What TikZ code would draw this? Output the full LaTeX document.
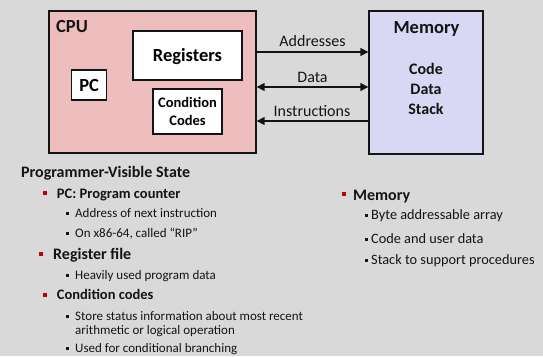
\documentclass[tikz,border=0pt]{standalone}
\usepackage{fontspec}
\setmainfont{Carlito}
\usetikzlibrary{arrows.meta}
\definecolor{bg}{RGB}{217,217,217}
\definecolor{cpufill}{RGB}{238,190,190}
\definecolor{memfill}{RGB}{216,216,245}
\definecolor{ink}{RGB}{20,20,20}
\definecolor{bulletred}{RGB}{192,0,0}
\newcommand{\fs}[2]{\fontsize{#1}{#2}\selectfont}
\tikzset{
  box/.style={draw=ink, line width=1.4pt, inner sep=0pt},
  whitebox/.style={box, fill=white},
  capbox/.style={whitebox, text height=12pt, text depth=0pt, font=\bfseries\fs{18.5}{20}},
  txt/.style={inner sep=0pt, text=ink, yshift=-2pt},
  link/.style={draw=ink, line width=1.5pt},
  tip/.style={-{Triangle[length=8pt,width=8pt]}},
  lvlone/.style={txt, anchor=mid west, font=\bfseries\fs{14.5}{17}},
  lvltwo/.style={txt, anchor=mid west, font=\fs{13}{15}},
  redsq/.style={fill=bulletred, inner sep=0pt, minimum size=4pt},
  blksq/.style={fill=ink, inner sep=0pt, minimum size=3pt},
}
\begin{document}
\begin{tikzpicture}[x=1pt, y=-1pt]
\fill[bg] (0,0) rectangle (543,356);
\useasboundingbox (0,0) rectangle (543,356);

% processor block
\node[box, fill=cpufill, minimum width=207pt, minimum height=142pt] (cpu) at (152.5,82) {};
\node[txt, anchor=mid west, font=\bfseries\fs{18.5}{20}] (cpulbl) at (56,28) {CPU};
\node[capbox, minimum width=109pt, minimum height=49pt] (regs) at (187.5,55.5) {Registers};
\node[capbox, minimum width=35pt, minimum height=30pt] (pc) at (89.2,85) {PC};
\node[whitebox, minimum width=69pt, minimum height=45pt, align=center, font=\bfseries\fs{14.5}{18}] (cc) at (187.5,111.5) {Condition\\Codes};

% memory block
\node[box, fill=memfill, minimum width=114pt, minimum height=143pt] (mem) at (426,82.5) {};
\node[txt, font=\bfseries\fs{18.5}{20}] (memlbl) at (426.5,27) {Memory};
\node[txt, align=center, font=\bfseries\fs{16}{20}] (memparts) at (426,87) {Code\\Data\\Stack};

% buses between processor and memory
\draw[link, tip] ([yshift=30pt]cpu.east) -- ([yshift=30pt]cpu.east -| mem.west);
\draw[link, {Triangle[length=8pt,width=8pt]}-{Triangle[length=8pt,width=8pt]}] ([yshift=-5pt]cpu.east) -- ([yshift=-5pt]cpu.east -| mem.west);
\draw[link, tip] ([yshift=-39pt]cpu.east -| mem.west) -- ([yshift=-39pt]cpu.east);
\node[txt, font=\fs{16}{18}] (addr) at (312.5,39) {Addresses};
\node[txt, font=\fs{16}{18}] (data) at (312.5,75) {Data};
\node[txt, font=\fs{16}{18}] (instr) at (312,109) {Instructions};

% programmer-visible state
\node[txt, anchor=mid west, font=\bfseries\fs{16}{18}] (pvs) at (21,173) {Programmer-Visible State};

\node[redsq] (b1) at (45,193) {};
\node[lvlone] (t1) at (56.7,194) {PC: Program counter};
\node[blksq] (b11) at (67.5,213.5) {};
\node[lvltwo] (t11) at (75,213.5) {Address of next instruction};
\node[blksq] (b12) at (67.5,233) {};
\node[lvltwo] (t12) at (75,233) {On x86-64, called “RIP”};

\node[redsq] (b2) at (41,253.5) {};
\node[lvlone, font=\bfseries\fs{16}{18}] (t2) at (53,255) {Register file};
\node[blksq] (b21) at (67.5,275.5) {};
\node[lvltwo] (t21) at (75,275.5) {Heavily used program data};

\node[redsq] (b3) at (45,294.5) {};
\node[lvlone] (t3) at (56.7,295.5) {Condition codes};
\node[blksq] (b31) at (67.5,316.5) {};
\node[lvltwo] (t31) at (75,316.5) {Store status information about most recent};
\node[lvltwo] (t31b) at (75,330.5) {arithmetic or logical operation};
\node[blksq] (b32) at (67.5,348) {};
\node[lvltwo] (t32) at (75,348) {Used for conditional branching};

% memory notes
\node[redsq, minimum size=3.5pt] (b4) at (344,194) {};
\node[txt, anchor=mid west, font=\bfseries\fs{16}{18}] (t4) at (353,196) {Memory};
\node[blksq] (b41) at (366,215) {};
\node[txt, anchor=mid west, font=\fs{14.3}{16}] (t41) at (371,215) {Byte addressable array};
\node[blksq] (b42) at (366,239.5) {};
\node[txt, anchor=mid west, font=\fs{14.3}{16}] (t42) at (371,239.5) {Code and user data};
\node[blksq] (b43) at (366,260) {};
\node[txt, anchor=mid west, font=\fs{14.3}{16}] (t43) at (371,260) {Stack to support procedures};
\end{tikzpicture}
\end{document}
